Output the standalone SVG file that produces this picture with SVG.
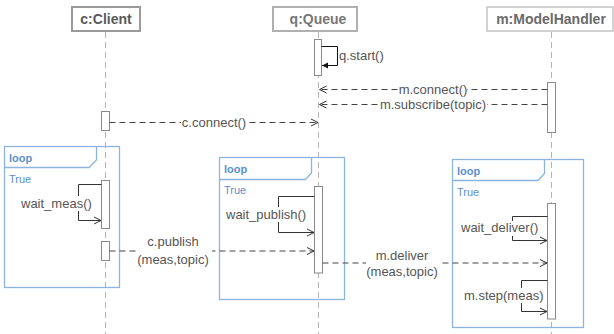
<svg xmlns="http://www.w3.org/2000/svg" width="614" height="334" viewBox="0 0 614 334">
<style>
.hdr{font-family:"Liberation Sans",Arial,sans-serif;font-size:14px;font-weight:bold;text-anchor:middle}
.life{stroke:#b4b4b4;stroke-width:1;stroke-dasharray:6 4;fill:none}
.act{fill:#fff;stroke:#8a8a8a;stroke-width:1}
.msg{stroke:#444;stroke-width:1;stroke-dasharray:6 4;fill:none;marker-end:url(#open)}
.self{stroke:#333;stroke-width:1;fill:none;marker-end:url(#open)}
.lbl{font-family:"Liberation Sans",Arial,sans-serif;font-size:13px;fill:#555}
.mid{text-anchor:middle}
.bg{fill:#fff}
.frame{fill:none;stroke:#8cb4e2;stroke-width:1.3}
.loop{font-family:"Liberation Sans",Arial,sans-serif;font-size:11px;font-weight:bold;fill:#5b8fd0}
.cond{font-family:"Liberation Sans",Arial,sans-serif;font-size:11px;fill:#5b8fd0}
</style>
<defs>
<marker id="open" markerUnits="userSpaceOnUse" markerWidth="10" markerHeight="10" refX="7" refY="3.5" orient="auto" overflow="visible">
<path d="M0,0 L7,3.5 L0,7" fill="none" stroke="#333" stroke-width="1"/>
</marker>
<marker id="filled" markerUnits="userSpaceOnUse" markerWidth="8" markerHeight="8" refX="6" refY="3" orient="auto" overflow="visible">
<path d="M0,0 L6,3 L0,6 Z" fill="#111"/>
</marker>
</defs>
<rect width="614" height="334" fill="#fff"/>

<g id="lifelines">
<line class="life" x1="105.5" y1="32" x2="105.5" y2="334"/>
<line class="life" x1="318.5" y1="32" x2="318.5" y2="334"/>
<line class="life" x1="551.5" y1="32" x2="551.5" y2="334"/>
</g>

<g id="client">
<rect x="72" y="7" width="68" height="24" fill="#fff" stroke="#9a9a9a" stroke-width="2"/>
<text class="hdr" x="106" y="24" fill="#5a5a5a">c:Client</text>
</g>
<g id="queue">
<rect x="273" y="7" width="84" height="24" fill="#fff" stroke="#b0b0b0" stroke-width="2"/>
<text class="hdr" x="318" y="24" fill="#777">q:Queue</text>
</g>
<g id="modelhandler">
<rect x="487" y="7" width="126" height="24" fill="#fff" stroke="#c4c4c4" stroke-width="1.5"/>
<text class="hdr" x="551" y="24" fill="#6a6a6a">m:ModelHandler</text>
</g>

<g id="loop1">
<rect class="frame" x="4.5" y="146.5" width="115" height="141"/>
<path class="frame" d="M4.5,167.5 H89 L96.5,160 V146.5"/>
<text class="loop" x="9" y="161.5">loop</text>
<text class="cond" x="9" y="183">True</text>
</g>
<g id="loop2">
<rect class="frame" x="219.5" y="157.5" width="125" height="142"/>
<path class="frame" d="M219.5,179.5 H305.5 L311.5,173 V157.5"/>
<text class="loop" x="224" y="172.5">loop</text>
<text class="cond" x="224" y="194">True</text>
</g>
<g id="loop3">
<rect class="frame" x="452.5" y="159.5" width="131" height="168"/>
<path class="frame" d="M452.5,180.5 H538 L544.5,173.5 V159.5"/>
<text class="loop" x="457" y="174.5">loop</text>
<text class="cond" x="457" y="195.5">True</text>
</g>

<g id="activations">
<rect class="act" x="314.5" y="39.5" width="7" height="36"/>
<rect class="act" x="547.5" y="82.5" width="8" height="50"/>
<rect class="act" x="101.5" y="111.5" width="8" height="19"/>
<rect class="act" x="101.5" y="180.5" width="8" height="48"/>
<rect class="act" x="101.5" y="241.5" width="8" height="19"/>
<rect class="act" x="314.5" y="186.5" width="8" height="86.5"/>
<rect class="act" x="547.5" y="203.5" width="8" height="115.5"/>
</g>

<g id="connectors">
<path d="M321.5,46.5 H337.5 V65.5 H322" stroke="#111" stroke-width="1" fill="none" marker-end="url(#filled)"/>
<text class="lbl" x="339" y="59.5">q.start()</text>

<path class="msg" d="M547.5,89.5 H319.5"/>
<rect class="bg" x="399" y="83" width="68" height="14"/>
<text class="lbl mid" x="433" y="94">m.connect()</text>

<path class="msg" d="M547.5,104.5 H319.5"/>
<rect class="bg" x="379" y="98" width="108" height="14"/>
<text class="lbl mid" x="433" y="109">m.subscribe(topic)</text>

<path class="msg" d="M109.5,122.5 H318"/>
<rect class="bg" x="181" y="116" width="66" height="14"/>
<text class="lbl mid" x="214" y="127">c.connect()</text>

<path class="self" d="M101.5,184.5 H78.5 V220.5 H101"/>
<rect class="bg" x="20" y="196" width="75" height="15"/>
<text class="lbl" x="21" y="207.5">wait_meas()</text>

<path class="msg" d="M109.5,251 H314"/>
<rect class="bg" x="136" y="233" width="76" height="34"/>
<text class="lbl mid" x="173" y="246">c.publish</text>
<text class="lbl mid" x="173" y="263.5">(meas,topic)</text>

<path class="self" d="M314.5,196.5 H278.5 V232.5 H314"/>
<rect class="bg" x="225" y="207" width="86" height="15"/>
<text class="lbl" x="226" y="218.5">wait_publish()</text>

<path class="msg" d="M322.5,263 H547"/>
<rect class="bg" x="366" y="246" width="73" height="34"/>
<text class="lbl mid" x="402" y="259.5">m.deliver</text>
<text class="lbl mid" x="402" y="276">(meas,topic)</text>

<path class="self" d="M547.5,216.5 H512.5 V240.5 H547"/>
<rect class="bg" x="460" y="221" width="84" height="15"/>
<text class="lbl" x="461" y="232">wait_deliver()</text>

<path class="self" d="M547.5,280.5 H521.5 V311.5 H547"/>
<rect class="bg" x="463" y="288" width="83" height="15"/>
<text class="lbl" x="464" y="299.5">m.step(meas)</text>
</g>
</svg>
